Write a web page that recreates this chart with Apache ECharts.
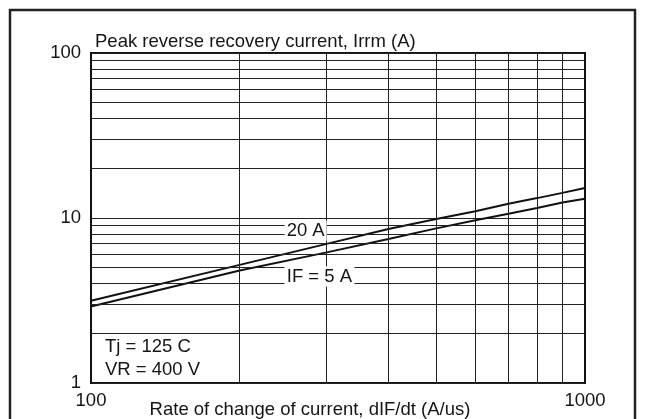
<!DOCTYPE html>
<html>
<head>
<meta charset="utf-8">
<script src="https://cdn.jsdelivr.net/npm/echarts@6/dist/echarts.min.js"></script>
<style>
html,body{margin:0;padding:0;background:#fff;}
#chart{width:648px;height:419px;}
</style>
</head>
<body>
<div id="chart"></div>
<script>
// dIF/dt (A/us)
var rates = [100, 200, 300, 400, 500, 600, 700, 800, 900, 1000];
// Peak reverse recovery current Irrm (A)
var irrm20A = [3.15, 5.2, 6.97, 8.58, 9.86, 11.0, 12.2, 13.2, 14.2, 15.2];
var irrm5A  = [2.91, 4.8, 6.19, 7.46, 8.65, 9.7, 10.6, 11.5, 12.4, 13.1];
// minor grid values
var xGridValues = [200, 300, 400, 500, 600, 700, 800, 900];
var yGridValues = [2, 3, 4, 5, 6, 7, 8, 9, 20, 30, 40, 50, 60, 70, 80, 90];
// curve labels (dIF/dt, Irrm)
var curveLabels = [
  {text: '20 A', rate: 272, irrm: 8.38, w: 42},
  {text: 'IF = 5 A', rate: 290, irrm: 4.42, w: 70}
];
var yTitle = 'Peak reverse recovery current, Irrm (A)';
var xTitle = 'Rate of change of current, dIF/dt (A/us)';
var noteLines = ['Tj = 125 C', 'VR = 400 V'];

var FONT = '"Liberation Sans", Arial, Helvetica, sans-serif';
var FS = 18.5;
var TXT = '#151515';

function pairs(xs, ys){ return xs.map(function(x,i){ return [x, ys[i]]; }); }

var gridMarks = xGridValues.map(function(v){ return {xAxis: v}; })
  .concat(yGridValues.map(function(v){ return {yAxis: v}; }));

var chart = echarts.init(document.getElementById('chart'), null, {renderer: 'canvas'});
chart.setOption({
  animation: false,
  backgroundColor: '#fff',
  grid: {left: 91, right: 63, top: 53, bottom: 36, show: true, borderColor: '#111', borderWidth: 2, backgroundColor: 'transparent'},
  xAxis: {
    type: 'log', logBase: 10, min: 100, max: 1000,
    axisLine: {show: false}, axisTick: {show: false},
    splitLine: {show: false},
    axisLabel: {fontFamily: FONT, fontSize: FS, color: TXT, margin: 8, showMinLabel: true, showMaxLabel: true,
      formatter: function(v){ return String(Math.round(v)); }}
  },
  yAxis: {
    type: 'log', logBase: 10, min: 1, max: 100,
    axisLine: {show: false}, axisTick: {show: false},
    splitLine: {show: true, lineStyle: {color: '#222', width: 1}},
    axisLabel: {fontFamily: FONT, fontSize: FS, color: TXT, margin: 10, showMinLabel: true, showMaxLabel: true,
      formatter: function(v){ return String(Math.round(v)); }}
  },
  series: [
    {
      type: 'line', name: 'grid', data: [], z: 1, silent: true,
      markLine: {
        silent: true, symbol: 'none', animation: false,
        label: {show: false},
        lineStyle: {color: '#222', width: 1, type: 'solid', opacity: 1},
        emphasis: {disabled: true},
        data: gridMarks
      }
    },
    {
      type: 'line', name: 'labels', data: [], z: 3, silent: true,
      markPoint: {
        silent: true, animation: false,
        symbol: 'rect',
        itemStyle: {color: '#fff', opacity: 1},
        label: {show: true, position: 'inside', fontFamily: FONT, fontSize: FS, color: TXT, opacity: 1},
        data: curveLabels.map(function(d){
          return {coord: [d.rate, d.irrm], symbolSize: [d.w, 20], value: d.text,
                  label: {formatter: d.text}};
        })
      }
    },
    {
      type: 'line', name: 'IF = 20 A', data: pairs(rates, irrm20A), z: 4,
      showSymbol: false, symbol: 'none', lineStyle: {color: '#111', width: 2}
    },
    {
      type: 'line', name: 'IF = 5 A', data: pairs(rates, irrm5A), z: 4,
      showSymbol: false, symbol: 'none', lineStyle: {color: '#111', width: 2}
    }
  ],
  graphic: [
    {type: 'rect', shape: {x: 10, y: 10, width: 625, height: 430}, style: {fill: 'none', stroke: '#222', lineWidth: 2.5}, z: 10, silent: true},
    {type: 'text', x: 95, y: 42, style: {text: yTitle, font: FS + 'px ' + FONT, fill: TXT, textAlign: 'left', textVerticalAlign: 'middle'}, z: 10},
    {type: 'text', x: 310, y: 410, style: {text: xTitle, font: FS + 'px ' + FONT, fill: TXT, textAlign: 'center', textVerticalAlign: 'middle'}, z: 10},
    {type: 'text', x: 105, y: 347, style: {text: noteLines[0], font: FS + 'px ' + FONT, fill: TXT, textAlign: 'left', textVerticalAlign: 'middle'}, z: 10},
    {type: 'text', x: 105, y: 370, style: {text: noteLines[1], font: FS + 'px ' + FONT, fill: TXT, textAlign: 'left', textVerticalAlign: 'middle'}, z: 10}
  ]
});
</script>
</body>
</html>
